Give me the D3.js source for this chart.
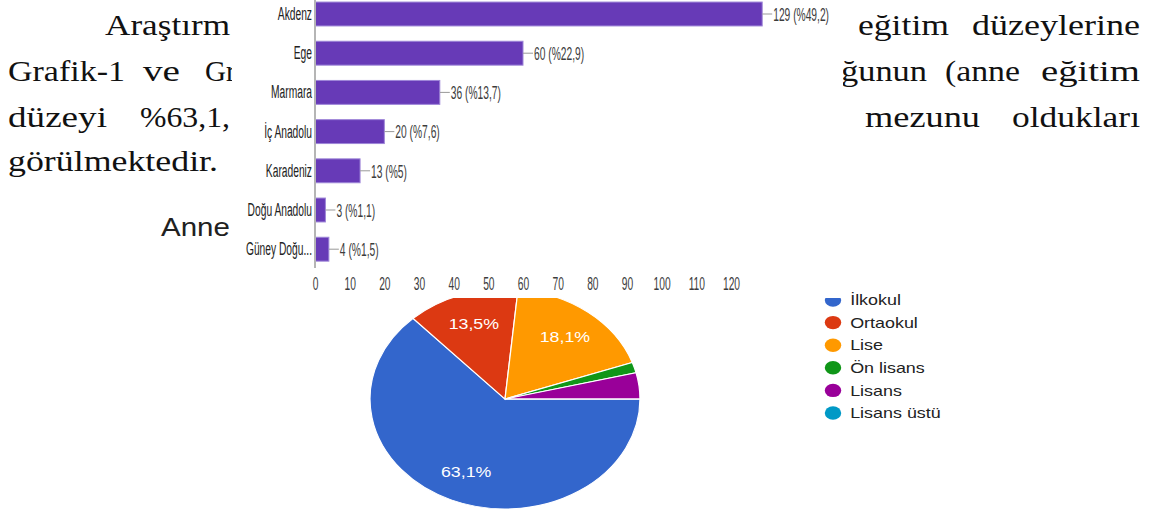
<!DOCTYPE html>
<html>
<head>
<meta charset="utf-8">
<script src="https://cdn.jsdelivr.net/npm/d3@7"></script>
<style>
  body { margin: 0; background: #fff; }
  svg { display: block; }
</style>
</head>
<body>
<script>

// bar chart: region counts
var regions = ["Akdenz", "Ege", "Marmara", "İç Anadolu", "Karadeniz", "Doğu Anadolu", "Güney Doğu..."];
var regionCounts = [129, 60, 36, 20, 13, 3, 4];
var regionPercents = [49.2, 22.9, 13.7, 7.6, 5, 1.1, 1.5];
var xTicks = [0, 10, 20, 30, 40, 50, 60, 70, 80, 90, 100, 110, 120];

// pie: mother's education
var eduLevels = ["İlkokul", "Ortaokul", "Lise", "Ön lisans", "Lisans", "Lisans üstü"];
var eduCounts = [164, 35, 47, 4, 10, 0];
var eduColors = ["#3366cc", "#dc3912", "#ff9900", "#109618", "#990099", "#0099c6"];

// visible fragments of the page text behind the charts
var words = [
  {t: "Araştırm", x: 105, y: 35, w: 125},
  {t: "Grafik-1", x: 8, y: 81, w: 117},
  {t: "ve", x: 143, y: 81, w: 37},
  {t: "Gr", x: 205, y: 81, w: 0},
  {t: "düzeyi", x: 8, y: 127, w: 99},
  {t: "%63,1,", x: 140, y: 127, w: 90},
  {t: "görülmektedir.", x: 8, y: 171, w: 210},
  {t: "eğitim", x: 858, y: 35, w: 91},
  {t: "düzeylerine", x: 972, y: 35, w: 168},
  {t: "ğunun", x: 841, y: 81, w: 86},
  {t: "(anne", x: 945, y: 81, w: 75},
  {t: "eğitim", x: 1041, y: 81, w: 99},
  {t: "mezunu", x: 865, y: 127, w: 115},
  {t: "oldukları", x: 1012, y: 127, w: 128}
];

var width = 1153,
    height = 513;

var svg = d3.select("body").append("svg")
    .attr("width", width)
    .attr("height", height);

svg.append("rect")
    .attr("width", width)
    .attr("height", height)
    .attr("fill", "#fff");

// paragraph text
svg.append("g")
    .selectAll("text")
    .data(words)
    .enter()
    .append("text")
    .attr("x", function(d) { return d.x; })
    .attr("y", function(d) { return d.y; })
    .attr("font-family", "'Liberation Serif', 'DejaVu Serif', serif")
    .attr("font-size", 29)
    .attr("fill", "#111")
    .each(function(d) {
        if (d.w > 0) {
            d3.select(this)
                .attr("textLength", d.w)
                .attr("lengthAdjust", "spacingAndGlyphs");
        }
    })
    .text(function(d) { return d.t; });

// pie chart title (stretched like the pasted image)
svg.append("text")
    .attr("transform", "translate(161,236) scale(1.18,1)")
    .attr("font-family", "'Liberation Sans', Arial, sans-serif")
    .attr("font-size", 25)
    .attr("fill", "#212121")
    .text("Anne");

// pie, squashed vertically relative to width
var stretch = 1.227,
    radius = 110;

var pieG = svg.append("g")
    .attr("transform", "translate(505,399) scale(" + stretch + ",1)");

var pie = d3.pie()
    .sort(null)
    .startAngle(Math.PI / 2)
    .endAngle(Math.PI / 2 + 2 * Math.PI);

var arcs = pie(eduCounts);
var total = d3.sum(eduCounts);

var arc = d3.arc().innerRadius(0).outerRadius(radius);
var labelArc = d3.arc().innerRadius(radius * 0.72).outerRadius(radius * 0.72);

pieG.selectAll("path")
    .data(arcs)
    .enter()
    .append("path")
    .attr("d", arc)
    .attr("fill", function(d, i) { return eduColors[i]; })
    .attr("stroke", "#fff")
    .attr("stroke-width", 1);

pieG.selectAll("text")
    .data(arcs.filter(function(d) { return d.value / total > 0.05; }))
    .enter()
    .append("text")
    .attr("transform", function(d) { return "translate(" + labelArc.centroid(d) + ")"; })
    .attr("text-anchor", "middle")
    .attr("dy", "0.35em")
    .attr("font-family", "'Liberation Sans', Arial, sans-serif")
    .attr("font-size", 14.5)
    .attr("fill", "#fff")
    .text(function(d) { return (d.value / total * 100).toFixed(1).replace(".", ",") + "%"; });

// legend
var legend = svg.append("g")
    .attr("transform", "translate(833,300) scale(" + stretch + ",1)");

var item = legend.selectAll("g")
    .data(eduLevels)
    .enter()
    .append("g")
    .attr("transform", function(d, i) { return "translate(0," + (i * 22.6) + ")"; });

item.append("circle")
    .attr("r", 6.7)
    .attr("fill", function(d, i) { return eduColors[i]; });

item.append("text")
    .attr("x", 14)
    .attr("dy", "0.36em")
    .attr("font-family", "'Liberation Sans', Arial, sans-serif")
    .attr("font-size", 14.6)
    .attr("fill", "#222")
    .text(function(d) { return d; });

// bar chart pasted over the page (white box)
svg.append("rect")
    .attr("x", 232)
    .attr("y", 0)
    .attr("width", 611)
    .attr("height", 298)
    .attr("fill", "#fff");

var xScale = d3.scaleLinear()
    .domain([0, 120])
    .range([315, 731]);

var yScale = d3.scaleBand()
    .domain(regions)
    .range([-5.6, 268.8])
    .paddingInner(0.39)
    .paddingOuter(0.195);

var squeeze = "scale(0.54,1)";
var narrowFont = "'Liberation Sans', Arial, sans-serif";
var narrowSize = 19;

svg.append("g")
    .selectAll("rect")
    .data(regions)
    .enter()
    .append("rect")
    .attr("x", xScale(0))
    .attr("y", function(d) { return yScale(d); })
    .attr("width", function(d, i) { return xScale(regionCounts[i]) - xScale(0); })
    .attr("height", yScale.bandwidth())
    .attr("fill", "#673ab7")
    .attr("stroke", "#9e86d8")
    .attr("stroke-width", 1);

// leader lines + value labels
svg.append("g")
    .selectAll("line")
    .data(regions)
    .enter()
    .append("line")
    .attr("x1", function(d, i) { return xScale(regionCounts[i]); })
    .attr("x2", function(d, i) { return xScale(regionCounts[i]) + 10; })
    .attr("y1", function(d) { return yScale(d) + yScale.bandwidth() / 2; })
    .attr("y2", function(d) { return yScale(d) + yScale.bandwidth() / 2; })
    .attr("stroke", "#999")
    .attr("stroke-width", 1);

svg.append("g")
    .selectAll("text")
    .data(regions)
    .enter()
    .append("text")
    .attr("transform", function(d, i) {
        return "translate(" + (xScale(regionCounts[i]) + 11) + "," + (yScale(d) + yScale.bandwidth() / 2) + ") " + squeeze;
    })
    .attr("dy", "0.36em")
    .attr("font-family", narrowFont)
    .attr("font-size", narrowSize)
    .attr("fill", "#3c3c3c")
    .text(function(d, i) {
        return regionCounts[i] + " (%" + String(regionPercents[i]).replace(".", ",") + ")";
    });

// y axis with category names
var yAxis = svg.append("g")
    .attr("transform", "translate(315,0)")
    .call(d3.axisLeft(yScale).tickSize(0).tickPadding(0));

yAxis.select(".domain")
    .attr("d", "M0,0V268")
    .attr("stroke", "#b5b5b5")
    .attr("stroke-width", 2);

yAxis.selectAll("text")
    .attr("x", null)
    .attr("transform", "translate(-3,0) " + squeeze)
    .attr("font-family", narrowFont)
    .attr("font-size", narrowSize)
    .attr("fill", "#222");

// x axis ticks
var xAxis = svg.append("g")
    .attr("transform", "translate(0,273)")
    .call(d3.axisBottom(xScale).tickValues(xTicks).tickSize(0).tickPadding(3));

xAxis.select(".domain").remove();

xAxis.selectAll("text")
    .attr("transform", squeeze)
    .attr("font-family", narrowFont)
    .attr("font-size", narrowSize)
    .attr("fill", "#3c3c3c");

</script>
</body>
</html>
